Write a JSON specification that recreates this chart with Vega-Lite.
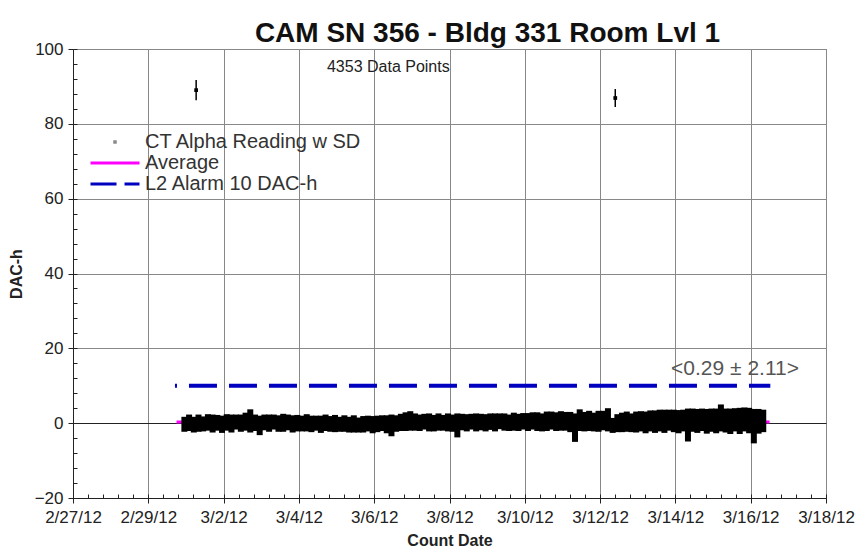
{
  "$schema": "https://vega.github.io/schema/vega-lite/v6.json",
  "width": 753,
  "height": 449,
  "autosize": {"type": "none"},
  "padding": {"left": 73, "top": 49, "right": 30, "bottom": 51},
  "background": "white",
  "config": {
    "font": "Liberation Sans",
    "view": {"stroke": "#888", "strokeWidth": 1},
    "axis": {
      "labelFont": "Liberation Sans",
      "titleFont": "Liberation Sans",
      "labelColor": "#222",
      "titleColor": "#222",
      "labelFontSize": 17,
      "titleFontSize": 16,
      "titleFontWeight": "bold",
      "gridColor": "#888",
      "gridOpacity": 1,
      "gridWidth": 1,
      "domainColor": "#222",
      "tickColor": "#222",
      "tickSize": 5
    }
  },
  "title": {
    "text": "CAM SN 356 - Bldg 331 Room Lvl 1",
    "font": "Liberation Sans",
    "fontSize": 28,
    "fontWeight": "bold",
    "color": "#111",
    "anchor": "middle",
    "dx": 38,
    "offset": -8
  },
  "datasets": {
    "readings": [
      {"t": "2012-02-29T23:00:00Z", "v": -0.3, "sd": 2.0},
      {"t": "2012-03-01T02:00:00Z", "v": 0.1, "sd": 2.2},
      {"t": "2012-03-01T05:00:00Z", "v": -0.4, "sd": 2.1},
      {"t": "2012-03-01T08:00:00Z", "v": 0.0, "sd": 2.3},
      {"t": "2012-03-01T11:00:00Z", "v": -0.2, "sd": 2.0},
      {"t": "2012-03-01T14:00:00Z", "v": 0.2, "sd": 2.2},
      {"t": "2012-03-01T17:00:00Z", "v": -0.1, "sd": 2.4},
      {"t": "2012-03-01T20:00:00Z", "v": 0.1, "sd": 2.1},
      {"t": "2012-03-01T23:00:00Z", "v": -0.3, "sd": 2.3},
      {"t": "2012-03-02T02:00:00Z", "v": 0.2, "sd": 2.2},
      {"t": "2012-03-02T05:00:00Z", "v": -0.1, "sd": 2.4},
      {"t": "2012-03-02T08:00:00Z", "v": 0.3, "sd": 2.0},
      {"t": "2012-03-02T11:00:00Z", "v": 0.0, "sd": 2.3},
      {"t": "2012-03-02T14:00:00Z", "v": 0.4, "sd": 2.4},
      {"t": "2012-03-02T17:00:00Z", "v": 0.6, "sd": 3.1},
      {"t": "2012-03-02T20:00:00Z", "v": 0.1, "sd": 2.2},
      {"t": "2012-03-02T23:00:00Z", "v": -0.6, "sd": 2.6},
      {"t": "2012-03-03T02:00:00Z", "v": 0.2, "sd": 2.1},
      {"t": "2012-03-03T05:00:00Z", "v": 0.0, "sd": 2.3},
      {"t": "2012-03-03T08:00:00Z", "v": 0.3, "sd": 2.0},
      {"t": "2012-03-03T11:00:00Z", "v": -0.1, "sd": 2.2},
      {"t": "2012-03-03T14:00:00Z", "v": 0.1, "sd": 2.4},
      {"t": "2012-03-03T17:00:00Z", "v": 0.2, "sd": 2.1},
      {"t": "2012-03-03T20:00:00Z", "v": -0.2, "sd": 2.3},
      {"t": "2012-03-03T23:00:00Z", "v": 0.0, "sd": 2.2},
      {"t": "2012-03-04T02:00:00Z", "v": -0.1, "sd": 2.1},
      {"t": "2012-03-04T05:00:00Z", "v": 0.1, "sd": 2.3},
      {"t": "2012-03-04T08:00:00Z", "v": -0.2, "sd": 2.2},
      {"t": "2012-03-04T11:00:00Z", "v": 0.0, "sd": 2.0},
      {"t": "2012-03-04T14:00:00Z", "v": -0.3, "sd": 2.3},
      {"t": "2012-03-04T17:00:00Z", "v": 0.1, "sd": 2.2},
      {"t": "2012-03-04T20:00:00Z", "v": -0.2, "sd": 2.1},
      {"t": "2012-03-04T23:00:00Z", "v": -0.1, "sd": 2.3},
      {"t": "2012-03-05T02:00:00Z", "v": -0.3, "sd": 2.0},
      {"t": "2012-03-05T05:00:00Z", "v": -0.1, "sd": 2.2},
      {"t": "2012-03-05T08:00:00Z", "v": -0.4, "sd": 2.1},
      {"t": "2012-03-05T11:00:00Z", "v": -0.2, "sd": 2.3},
      {"t": "2012-03-05T14:00:00Z", "v": -0.5, "sd": 2.0},
      {"t": "2012-03-05T17:00:00Z", "v": -0.3, "sd": 2.2},
      {"t": "2012-03-05T20:00:00Z", "v": -0.1, "sd": 2.1},
      {"t": "2012-03-05T23:00:00Z", "v": -0.4, "sd": 2.3},
      {"t": "2012-03-06T02:00:00Z", "v": -0.2, "sd": 2.2},
      {"t": "2012-03-06T05:00:00Z", "v": 0.0, "sd": 2.1},
      {"t": "2012-03-06T08:00:00Z", "v": -0.3, "sd": 2.4},
      {"t": "2012-03-06T11:00:00Z", "v": -0.6, "sd": 2.9},
      {"t": "2012-03-06T14:00:00Z", "v": -0.1, "sd": 2.2},
      {"t": "2012-03-06T17:00:00Z", "v": 0.2, "sd": 2.3},
      {"t": "2012-03-06T20:00:00Z", "v": 0.4, "sd": 2.5},
      {"t": "2012-03-06T23:00:00Z", "v": 0.6, "sd": 2.6},
      {"t": "2012-03-07T02:00:00Z", "v": 0.3, "sd": 2.3},
      {"t": "2012-03-07T05:00:00Z", "v": 0.1, "sd": 2.2},
      {"t": "2012-03-07T08:00:00Z", "v": 0.4, "sd": 2.1},
      {"t": "2012-03-07T11:00:00Z", "v": 0.2, "sd": 2.4},
      {"t": "2012-03-07T14:00:00Z", "v": 0.0, "sd": 2.2},
      {"t": "2012-03-07T17:00:00Z", "v": 0.3, "sd": 2.3},
      {"t": "2012-03-07T20:00:00Z", "v": 0.1, "sd": 2.1},
      {"t": "2012-03-07T23:00:00Z", "v": 0.2, "sd": 2.4},
      {"t": "2012-03-08T02:00:00Z", "v": 0.0, "sd": 2.3},
      {"t": "2012-03-08T05:00:00Z", "v": -0.6, "sd": 3.2},
      {"t": "2012-03-08T08:00:00Z", "v": 0.3, "sd": 2.2},
      {"t": "2012-03-08T11:00:00Z", "v": 0.1, "sd": 2.3},
      {"t": "2012-03-08T14:00:00Z", "v": 0.4, "sd": 2.1},
      {"t": "2012-03-08T17:00:00Z", "v": 0.2, "sd": 2.4},
      {"t": "2012-03-08T20:00:00Z", "v": 0.3, "sd": 2.2},
      {"t": "2012-03-08T23:00:00Z", "v": 0.1, "sd": 2.3},
      {"t": "2012-03-09T02:00:00Z", "v": 0.4, "sd": 2.2},
      {"t": "2012-03-09T05:00:00Z", "v": 0.2, "sd": 2.4},
      {"t": "2012-03-09T08:00:00Z", "v": 0.5, "sd": 2.1},
      {"t": "2012-03-09T11:00:00Z", "v": 0.3, "sd": 2.3},
      {"t": "2012-03-09T14:00:00Z", "v": 0.1, "sd": 2.2},
      {"t": "2012-03-09T17:00:00Z", "v": 0.4, "sd": 2.4},
      {"t": "2012-03-09T20:00:00Z", "v": 0.2, "sd": 2.3},
      {"t": "2012-03-09T23:00:00Z", "v": 0.5, "sd": 2.2},
      {"t": "2012-03-10T02:00:00Z", "v": 0.3, "sd": 2.4},
      {"t": "2012-03-10T05:00:00Z", "v": 0.6, "sd": 2.3},
      {"t": "2012-03-10T08:00:00Z", "v": 0.4, "sd": 2.5},
      {"t": "2012-03-10T11:00:00Z", "v": 0.2, "sd": 2.4},
      {"t": "2012-03-10T14:00:00Z", "v": 0.5, "sd": 2.6},
      {"t": "2012-03-10T17:00:00Z", "v": 0.7, "sd": 2.4},
      {"t": "2012-03-10T20:00:00Z", "v": 0.4, "sd": 2.5},
      {"t": "2012-03-10T23:00:00Z", "v": 0.6, "sd": 2.6},
      {"t": "2012-03-11T02:00:00Z", "v": 0.5, "sd": 2.5},
      {"t": "2012-03-11T05:00:00Z", "v": 0.3, "sd": 2.7},
      {"t": "2012-03-11T08:00:00Z", "v": -1.2, "sd": 3.8},
      {"t": "2012-03-11T11:00:00Z", "v": 0.8, "sd": 2.9},
      {"t": "2012-03-11T14:00:00Z", "v": 0.4, "sd": 2.6},
      {"t": "2012-03-11T17:00:00Z", "v": 0.6, "sd": 2.7},
      {"t": "2012-03-11T20:00:00Z", "v": 0.3, "sd": 2.5},
      {"t": "2012-03-11T23:00:00Z", "v": 0.5, "sd": 2.8},
      {"t": "2012-03-12T02:00:00Z", "v": 0.7, "sd": 2.6},
      {"t": "2012-03-12T05:00:00Z", "v": 0.9, "sd": 3.1},
      {"t": "2012-03-12T08:00:00Z", "v": -0.6, "sd": 2.0},
      {"t": "2012-03-12T11:00:00Z", "v": 0.0, "sd": 2.4},
      {"t": "2012-03-12T14:00:00Z", "v": 0.2, "sd": 2.6},
      {"t": "2012-03-12T17:00:00Z", "v": 0.4, "sd": 2.7},
      {"t": "2012-03-12T20:00:00Z", "v": 0.1, "sd": 2.5},
      {"t": "2012-03-12T23:00:00Z", "v": 0.3, "sd": 2.8},
      {"t": "2012-03-13T02:00:00Z", "v": 0.5, "sd": 2.7},
      {"t": "2012-03-13T05:00:00Z", "v": 0.2, "sd": 2.9},
      {"t": "2012-03-13T08:00:00Z", "v": 0.6, "sd": 2.8},
      {"t": "2012-03-13T11:00:00Z", "v": 0.4, "sd": 3.0},
      {"t": "2012-03-13T14:00:00Z", "v": 0.7, "sd": 2.9},
      {"t": "2012-03-13T17:00:00Z", "v": 0.5, "sd": 3.1},
      {"t": "2012-03-13T20:00:00Z", "v": 0.8, "sd": 2.8},
      {"t": "2012-03-13T23:00:00Z", "v": 0.6, "sd": 3.0},
      {"t": "2012-03-14T02:00:00Z", "v": 0.4, "sd": 3.1},
      {"t": "2012-03-14T05:00:00Z", "v": 0.7, "sd": 2.9},
      {"t": "2012-03-14T08:00:00Z", "v": -0.5, "sd": 4.4},
      {"t": "2012-03-14T11:00:00Z", "v": 0.8, "sd": 3.1},
      {"t": "2012-03-14T14:00:00Z", "v": 0.6, "sd": 3.2},
      {"t": "2012-03-14T17:00:00Z", "v": 0.9, "sd": 3.0},
      {"t": "2012-03-14T20:00:00Z", "v": 0.5, "sd": 3.3},
      {"t": "2012-03-14T23:00:00Z", "v": 0.8, "sd": 3.1},
      {"t": "2012-03-15T02:00:00Z", "v": 0.6, "sd": 3.3},
      {"t": "2012-03-15T05:00:00Z", "v": 1.4, "sd": 3.6},
      {"t": "2012-03-15T08:00:00Z", "v": 0.7, "sd": 3.2},
      {"t": "2012-03-15T11:00:00Z", "v": 0.5, "sd": 3.4},
      {"t": "2012-03-15T14:00:00Z", "v": 0.9, "sd": 3.1},
      {"t": "2012-03-15T17:00:00Z", "v": 0.6, "sd": 3.5},
      {"t": "2012-03-15T20:00:00Z", "v": 1.0, "sd": 3.2},
      {"t": "2012-03-15T23:00:00Z", "v": 0.7, "sd": 3.4},
      {"t": "2012-03-16T02:00:00Z", "v": -0.8, "sd": 4.6},
      {"t": "2012-03-16T05:00:00Z", "v": 0.5, "sd": 3.3},
      {"t": "2012-03-16T08:00:00Z", "v": 0.6, "sd": 3.0},
      {"t": "2012-03-01T06:30:00Z", "v": 89.0, "sd": 2.7},
      {"t": "2012-03-12T09:40:00Z", "v": 86.9, "sd": 2.4}
    ],
    "levels": [
      {"series": "Average", "start": "2012-02-29T18:00:00Z", "end": "2012-03-16T12:00:00Z", "level": 0.29},
      {"series": "L2 Alarm 10 DAC-h", "start": "2012-02-29T17:00:00Z", "end": "2012-03-16T12:30:00Z", "level": 10}
    ],
    "notes": [
      {"label": "4353 Data Points", "t": "2012-03-06T09:00:00Z", "y": 95.2, "kind": "count"},
      {"label": "<0.29 ± 2.11>", "t": "2012-03-15T14:00:00Z", "y": 14.4, "kind": "stat"}
    ]
  },
  "resolve": {"axis": {"x": "independent", "y": "independent"}},
  "layer": [
    {
      "layer": [
        {
          "data": {"name": "levels"},
          "transform": [{"filter": "datum.series === 'L2 Alarm 10 DAC-h'"}],
          "mark": {"type": "rule", "strokeWidth": 4, "strokeDash": [28, 12], "strokeDashOffset": 26},
          "encoding": {
            "x": {
              "field": "start", "type": "temporal", "title": "Count Date",
              "scale": {"type": "utc", "domain": [{"year": 2012, "month": 2, "date": 27, "utc": true}, {"year": 2012, "month": 3, "date": 18, "utc": true}]},
              "axis": {
                "orient": "bottom",
                "values": [
                  {"year": 2012, "month": 2, "date": 27, "utc": true},
                  {"year": 2012, "month": 2, "date": 29, "utc": true},
                  {"year": 2012, "month": 3, "date": 2, "utc": true},
                  {"year": 2012, "month": 3, "date": 4, "utc": true},
                  {"year": 2012, "month": 3, "date": 6, "utc": true},
                  {"year": 2012, "month": 3, "date": 8, "utc": true},
                  {"year": 2012, "month": 3, "date": 10, "utc": true},
                  {"year": 2012, "month": 3, "date": 12, "utc": true},
                  {"year": 2012, "month": 3, "date": 14, "utc": true},
                  {"year": 2012, "month": 3, "date": 16, "utc": true},
                  {"year": 2012, "month": 3, "date": 18, "utc": true}
                ],
                "labelExpr": "utcFormat(datum.value, '%-m/%-d/%y')",
                "labelOverlap": false,
                "labelFlush": false,
                "labelPadding": 6,
                "titlePadding": 7
              }
            },
            "x2": {"field": "end"},
            "y": {
              "field": "level", "type": "quantitative", "title": "DAC-h",
              "scale": {"domain": [-20, 100], "nice": false, "zero": false},
              "axis": {
                "orient": "left",
                "values": [-20, 0, 20, 40, 60, 80, 100],
                "titlePadding": 10,
                "labelPadding": 5,
                "labelFlush": false,
                "gridColor": {"condition": {"test": "datum.value === 0", "value": "#222222"}, "value": "#888888"}
              }
            },
            "color": {
              "datum": "L2 Alarm 10 DAC-h",
              "scale": {"domain": ["CT Alpha Reading w SD", "Average", "L2 Alarm 10 DAC-h"], "range": ["#888888", "#ff00ff", "#0000c0"]},
              "legend": {
                "title": null,
                "orient": "none",
                "legendX": 32,
                "legendY": 83,
                "labelFontSize": 20,
                "labelFont": "Liberation Sans",
                "labelColor": "#333",
                "labelLimit": 400,
                "labelOffset": 20,
                "rowPadding": 1,
                "symbolSize": 2400,
                "symbolType": "stroke",
                "symbolStrokeWidth": 3,
                "encode": {
                  "symbols": {
                    "update": {
                      "shape": {"signal": "datum.value === 'CT Alpha Reading w SD' ? 'square' : 'stroke'"},
                      "size": {"signal": "datum.value === 'CT Alpha Reading w SD' ? 12 : 2400"},
                      "strokeDash": {"signal": "datum.value === 'L2 Alarm 10 DAC-h' ? [26, 8] : [1, 0]"},
                      "strokeWidth": {"signal": "datum.value === 'CT Alpha Reading w SD' ? 0 : 3"},
                      "fill": {"signal": "datum.value === 'CT Alpha Reading w SD' ? '#888888' : 'transparent'"}
                    }
                  }
                }
              }
            }
          }
        },
        {
          "data": {"name": "levels"},
          "transform": [{"filter": "datum.series === 'Average'"}],
          "mark": {"type": "rule", "strokeWidth": 3},
          "encoding": {
            "x": {"field": "start", "type": "temporal", "title": "Count Date"},
            "x2": {"field": "end"},
            "y": {"field": "level", "type": "quantitative", "title": "DAC-h"},
            "color": {"datum": "Average"}
          }
        },
        {
          "data": {"name": "readings"},
          "transform": [{"filter": "datum.v < 50"}],
          "mark": {"type": "errorbar", "thickness": 6, "color": "#000"},
          "encoding": {
            "x": {"field": "t", "type": "temporal", "title": "Count Date"},
            "y": {"field": "v", "type": "quantitative", "title": "DAC-h"},
            "yError": {"field": "sd"}
          }
        },
        {
          "data": {"name": "readings"},
          "transform": [{"filter": "datum.v >= 50"}],
          "mark": {"type": "errorbar", "thickness": 1.5, "color": "#000"},
          "encoding": {
            "x": {"field": "t", "type": "temporal", "title": "Count Date"},
            "y": {"field": "v", "type": "quantitative", "title": "DAC-h"},
            "yError": {"field": "sd"}
          }
        },
        {
          "data": {"name": "readings"},
          "mark": {"type": "point", "shape": "square", "filled": true, "size": 14, "color": "#000", "opacity": 1},
          "encoding": {
            "x": {"field": "t", "type": "temporal", "title": "Count Date"},
            "y": {"field": "v", "type": "quantitative", "title": "DAC-h"}
          }
        },
        {
          "data": {"name": "notes"},
          "transform": [{"filter": "datum.kind === 'count'"}],
          "mark": {"type": "text", "font": "Liberation Sans", "fontSize": 16, "color": "#222"},
          "encoding": {
            "x": {"field": "t", "type": "temporal", "title": "Count Date"},
            "y": {"field": "y", "type": "quantitative", "title": "DAC-h"},
            "text": {"field": "label"}
          }
        },
        {
          "data": {"name": "notes"},
          "transform": [{"filter": "datum.kind === 'stat'"}],
          "mark": {"type": "text", "font": "Liberation Sans", "fontSize": 21, "color": "#555"},
          "encoding": {
            "x": {"field": "t", "type": "temporal", "title": "Count Date"},
            "y": {"field": "y", "type": "quantitative", "title": "DAC-h"},
            "text": {"field": "label"}
          }
        }
      ]
    },
    {
      "data": {"name": "readings"},
      "mark": {"type": "point", "opacity": 0},
      "encoding": {
        "x": {
          "field": "t", "type": "temporal",
          "axis": {
            "orient": "bottom",
            "title": null,
            "labels": false,
            "grid": false,
            "domain": false,
            "tickSize": -4,
            "values": [1330300800000, 1330335360000, 1330369920000, 1330404480000, 1330439040000, 1330473600000, 1330508160000, 1330542720000, 1330577280000, 1330611840000, 1330646400000, 1330680960000, 1330715520000, 1330750080000, 1330784640000, 1330819200000, 1330853760000, 1330888320000, 1330922880000, 1330957440000, 1330992000000, 1331026560000, 1331061120000, 1331095680000, 1331130240000, 1331164800000, 1331199360000, 1331233920000, 1331268480000, 1331303040000, 1331337600000, 1331372160000, 1331406720000, 1331441280000, 1331475840000, 1331510400000, 1331544960000, 1331579520000, 1331614080000, 1331648640000, 1331683200000, 1331717760000, 1331752320000, 1331786880000, 1331821440000, 1331856000000, 1331890560000, 1331925120000, 1331959680000, 1331994240000, 1332028800000]
          }
        },
        "y": {
          "field": "v", "type": "quantitative",
          "axis": {
            "orient": "left",
            "title": null,
            "labels": false,
            "grid": false,
            "domain": false,
            "tickSize": -4,
            "values": [-20, -16, -12, -8, -4, 0, 4, 8, 12, 16, 20, 24, 28, 32, 36, 40, 44, 48, 52, 56, 60, 64, 68, 72, 76, 80, 84, 88, 92, 96, 100]
          }
        }
      }
    }
  ]
}
